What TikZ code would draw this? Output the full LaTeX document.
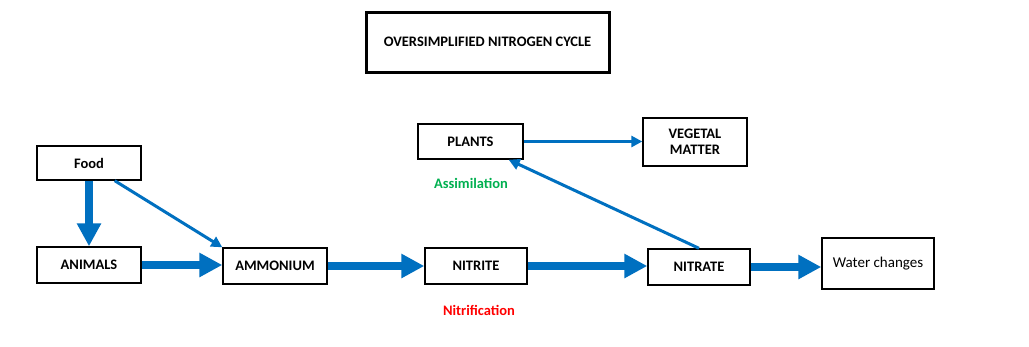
\documentclass[tikz,border=0pt]{standalone}
\usepackage{fontspec}
\setmainfont{Carlito}
\usetikzlibrary{arrows.meta}
\definecolor{arrblue}{HTML}{0070C0}
\definecolor{asgreen}{HTML}{00B050}
\definecolor{nired}{HTML}{FF0000}
\begin{document}
\begin{tikzpicture}[x=1pt,y=-1pt,
  box/.style={draw=black,line width=1.4pt,inner sep=0pt,align=center,
    font=\fontsize{14.5}{16}\selectfont\bfseries},
  thick arrow/.style={draw=arrblue,line width=8.5pt,
    -{Triangle[width=23pt,length=23pt]}},
  thin arrow/.style={draw=arrblue,line width=3pt,
    -{Triangle[width=11pt,length=11pt]}},
  lbl/.style={font=\fontsize{14.5}{16}\selectfont\bfseries}]
\useasboundingbox (0,0) rectangle (1029,346);
\fill[white] (0,0) rectangle (1029,346);
\node[box,line width=3pt,minimum width=243pt,minimum height=60pt] (title) at (487.5,42) {OVERSIMPLIFIED NITROGEN CYCLE};
\node[box,minimum width=104pt,minimum height=34pt] (food) at (89,163) {Food};
\node[box,minimum width=104pt,minimum height=36pt] (animals) at (89,265) {ANIMALS};
\node[box,minimum width=104pt,minimum height=36pt] (ammonium) at (275,266) {AMMONIUM};
\node[box,minimum width=102pt,minimum height=36pt] (nitrite) at (476,266) {NITRITE};
\node[box,minimum width=102pt,minimum height=36pt] (nitrate) at (699,267) {NITRATE};
\node[box,font=\fontsize{15}{17}\selectfont,minimum width=112pt,minimum height=51pt] (water) at (878,263.5) {Water changes};
\node[box,minimum width=105pt,minimum height=35pt] (plants) at (470.5,141.5) {PLANTS};
\node[box,minimum width=104pt,minimum height=48pt] (vegetal) at (695,142) {VEGETAL\\MATTER};
\node[lbl,text=asgreen] (assim) at (471,183) {Assimilation};
\node[lbl,text=nired] (nitrif) at (479,310) {Nitrification};
\draw[thick arrow] (food.south) -- (animals.north);
\draw[thin arrow] ([xshift=-27pt]food.south east) -- (ammonium.north west);
\draw[thick arrow] (animals.east) -- (animals.east -| ammonium.west);
\draw[thick arrow] (ammonium.east) -- (nitrite.west);
\draw[thick arrow] (nitrite.east) -- (nitrite.east -| nitrate.west);
\draw[thick arrow] (nitrate.east) -- (nitrate.east -| water.west);
\draw[thin arrow] (nitrate.north) -- ([xshift=-15pt]plants.south east);
\draw[thin arrow] (plants.east) -- (plants.east -| vegetal.west);
\end{tikzpicture}
\end{document}
